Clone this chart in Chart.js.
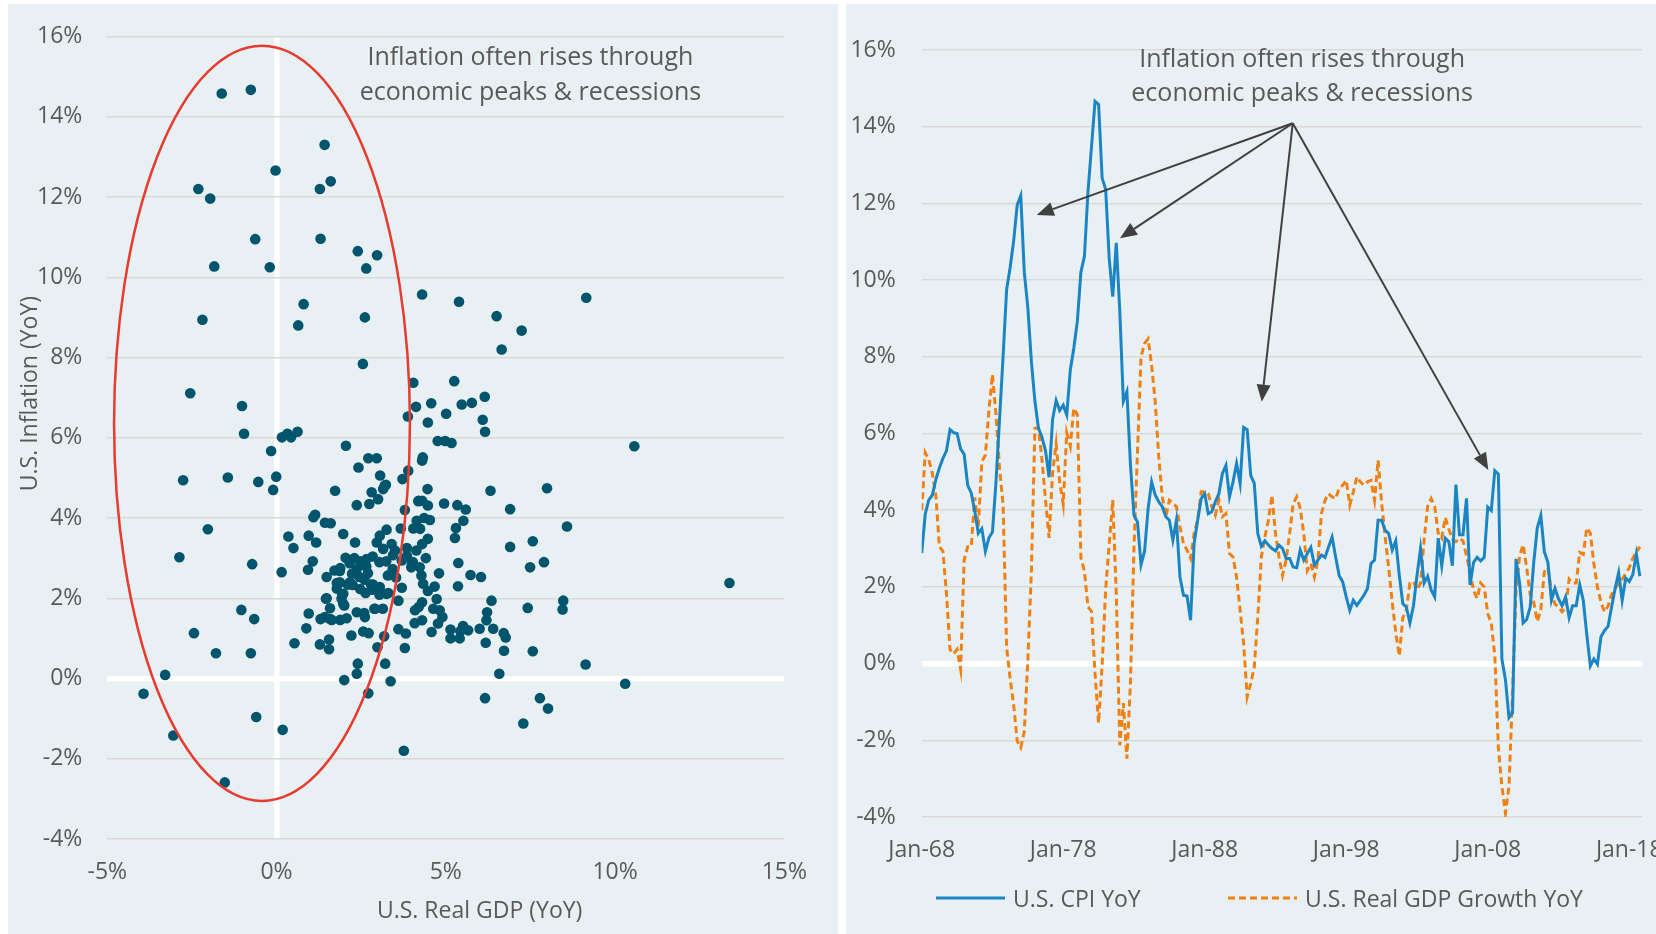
<!DOCTYPE html>
<html>
<head>
<meta charset="utf-8">
<title>Inflation vs GDP</title>
<script src="https://cdn.jsdelivr.net/npm/chart.js@4.4.1/dist/chart.umd.min.js"></script>
<style>
  html, body { margin: 0; padding: 0; background: #fff; overflow: hidden; width: 1656px; height: 934px; }
  .panel { position: absolute; top: 4px; height: 930px; background: #E8F0F3; }
  #leftPanel { left: 8px; width: 830px; }
  #rightPanel { left: 846px; width: 880px; }
  canvas { position: absolute; left: 0; top: 0; }
  #scatterChart { top: -10px; }
  .legend-item { position: absolute; top: 878px; height: 32px; display: flex; align-items: center;
    font: 23px 'Open Sans', sans-serif; color: #595959; white-space: nowrap; }
  .legend-item svg { margin-right: 8px; }
</style>
</head>
<body>
<div class="panel" id="leftPanel"><canvas id="scatterChart" width="830" height="940"></canvas></div>
<div class="panel" id="rightPanel">
  <canvas id="lineChart" width="880" height="930"></canvas>
  <div class="legend-item" style="left:90px">
    <svg width="69" height="32"><line x1="0" y1="16" x2="69" y2="16" stroke="#1B84C2" stroke-width="3"/></svg>
    <span>U.S. CPI YoY</span>
  </div>
  <div class="legend-item" style="left:382px">
    <svg width="69" height="32"><line x1="0" y1="16" x2="69" y2="16" stroke="#F08013" stroke-width="3" stroke-dasharray="7 4"/></svg>
    <span>U.S. Real GDP Growth YoY</span>
  </div>
</div>
<script>
const FONT = "'Open Sans', sans-serif";
const TEXT = '#595959';
const GRID = '#D9D9D9';

// quarterly readings, Q1 1968 onwards
const firstYear = 1968;
const cpiYoY = [
  2.88, 3.9, 4.27, 4.39, 4.8, 5.1, 5.35, 5.55, 6.1, 6.02, 6.0, 5.6, 5.46, 4.65, 4.45, 3.98, 3.4, 3.52, 2.93, 3.28,
  3.43, 4.74, 6.37, 8.0, 9.75, 10.33, 11.03, 11.96, 12.2, 10.2, 9.28, 7.88, 6.84, 6.14, 5.9, 5.55, 4.86, 6.37, 6.86, 6.6,
  6.74, 6.49, 7.65, 8.23, 8.93, 10.21, 10.62, 12.31, 13.48, 14.66, 14.58, 12.66, 12.37, 10.56, 9.57, 10.97, 9.17, 6.84, 7.09, 5.2,
  3.87, 3.69, 2.58, 2.93, 4.04, 4.74, 4.4,
  4.22, 4.09, 3.83, 3.74, 3.22, 3.74, 2.26, 1.78, 1.76, 1.13, 3.13, 3.74, 4.3, 4.43, 3.91, 3.96, 4.22, 4.43, 4.96, 5.17,
  4.35, 4.74, 5.22, 4.7, 6.16, 6.1, 4.91, 4.7, 3.39, 3.06, 3.2, 3.09, 3.0, 2.94, 3.09, 3.0, 2.74, 2.74, 2.52, 2.5,
  2.96, 2.7, 2.87, 3.03, 2.57, 2.7, 2.83, 2.77, 3.04, 3.3, 2.78, 2.3, 2.13, 1.74, 1.39, 1.65, 1.52, 1.65, 1.78, 1.96,
  2.61, 2.7, 3.74, 3.74, 3.48, 3.39, 2.96,
  3.2, 2.3, 1.56, 1.47, 1.06, 1.51, 2.3, 3.0, 2.1, 2.28, 1.92, 1.74, 3.27, 2.55, 3.27, 3.18, 2.55, 4.67, 3.36, 3.36,
  4.31, 2.05, 2.64, 2.77, 2.68, 2.77, 4.08, 3.99, 5.03, 4.94, 0.12, -0.42, -1.41, -1.28, 2.73, 2.1, 1.06, 1.15, 1.47, 2.64,
  3.54, 3.86, 2.91, 2.64, 1.65, 1.96, 1.69, 1.51, 1.74, 1.2, 1.51, 1.51, 2.05, 1.65, 0.75, -0.06, 0.12, -0.02, 0.7, 0.86,
  0.97, 1.47, 1.96, 2.37, 1.65, 2.23, 2.14, 2.32, 2.86, 2.28
];
const gdpYoY = [
  4.0, 5.5, 5.32, 4.97, 4.39, 3.05, 2.93, 1.83, 0.37, 0.25, 0.37, -0.15, 2.7, 3.05, 3.05, 4.33, 3.57, 5.26, 5.44, 6.6,
  7.54, 6.49, 5.09, 4.16, 0.43, -0.39, -1.08, -2.02, -2.19, -1.78, 0.08, 2.41, 6.14, 6.14, 5.32, 4.27, 3.28, 4.97, 5.73, 4.74,
  4.16, 6.02, 5.67, 6.66, 6.49, 2.76, 2.41, 1.48, 1.36, -0.27, -1.55, -0.05, 1.94, 3.11, 4.27, 1.83, -2.13, -1.03, -2.48, -0.5,
  3.0, 5.55, 8.0, 8.35, 8.47, 7.77, 6.84,
  5.39, 4.35, 3.83, 4.26, 4.19, 4.09, 3.57, 3.13, 2.96, 2.74, 3.39, 3.74, 4.48, 4.48, 4.43, 4.09, 3.87, 4.26, 3.83, 3.91,
  2.87, 2.78, 2.26, 1.39, 0.52, -0.87, -0.52, -0.09, 1.22, 2.78, 3.3, 3.74, 4.39, 3.39, 2.78, 2.3, 2.7, 3.39, 4.17, 4.35,
  4.04, 3.39, 2.43, 2.61, 2.26, 2.7, 3.91, 4.26, 4.43, 4.35, 4.3, 4.57, 4.65, 4.78, 4.13, 4.48, 4.87, 4.74, 4.65, 4.74,
  4.78, 4.26, 5.3, 4.2, 3.3, 2.5, 1.6,
  0.8, 0.2, 1.2, 1.4, 2.1, 2.14, 1.92, 2.1, 3.2, 4.1, 4.3, 4.1, 3.4, 3.27, 3.81, 3.5, 3.25, 3.18, 3.27, 3.2,
  2.8, 2.4, 1.9, 1.7, 2.1, 2.0, 1.3, 1.06, 0.2, -2.2, -3.2, -3.9, -3.2, -0.8, 1.9, 2.8, 3.1, 2.5, 1.8, 1.6,
  1.1, 1.4, 2.4, 2.5, 1.9, 1.55, 1.48, 1.35, 1.45, 2.2, 2.1, 2.1, 2.9, 2.85, 3.54, 3.4, 2.6, 2.0, 1.6, 1.35,
  1.5, 1.8, 1.95, 2.1, 2.2, 2.35, 2.5, 2.75, 2.9, 3.05
];
const xTickYears = [1968, 1978, 1988, 1998, 2008, 2018];

// scatter: [real GDP YoY, inflation YoY]
const scatterPoints = [
  [-1.62,14.58],[-0.76,14.67],[1.42,13.3],[-0.03,12.66],[-2.31,12.2],[-1.96,11.96],[1.28,12.2],[1.6,12.39],
  [-0.63,10.95],[1.3,10.96],[-1.84,10.27],[-0.2,10.25],[2.4,10.65],[2.65,10.22],[2.97,10.55],[-2.19,8.94],
  [0.8,9.33],[0.64,8.8],[2.61,9.0],[2.55,7.84],[-2.55,7.11],[-1.02,6.79],[-0.96,6.1],[0.16,6.01],[0.32,6.1],
  [0.43,6.01],[0.62,6.15],[-0.16,5.67],[2.05,5.8],[2.42,5.26],[2.71,5.49],[2.96,5.49],[3.88,6.53],[4.04,7.37],
  [4.12,6.77],[4.3,9.57],[5.39,9.39],[6.5,9.03],[7.24,8.67],[6.65,8.2],[9.15,9.49],[4.57,6.86],[5.25,7.41],
  [4.47,6.38],[5.01,6.6],[5.47,6.83],[5.77,6.87],[6.15,7.02],[6.09,6.45],[6.16,6.15],[4.76,5.92],[4.98,5.92],
  [5.17,5.87],[4.32,5.51],[10.57,5.79],[3.89,5.18],
  [-2.76,4.94],[-1.44,5.01],[-0.54,4.9],[-0.01,5.03],[-0.1,4.7],[3.06,5.06],[1.73,4.68],[2.37,4.32],[2.74,4.35],
  [2.81,4.64],[3.0,4.47],[3.15,4.72],[3.23,4.83],[3.79,4.2],[3.72,4.97],[-2.03,3.72],[-2.87,3.02],[-0.72,2.85],
  [0.15,2.65],[-1.04,1.71],[-0.66,1.48],[-2.44,1.13],[-1.79,0.63],[-0.76,0.63],[-3.29,0.09],[-3.93,-0.38],
  [-3.05,-1.42],[-0.6,-0.96],[0.18,-1.28],[-1.53,-2.59],[3.76,-1.8],[2.0,-0.04],[2.37,0.12],[2.4,0.37],[3.21,0.37],
  [3.37,-0.07],[2.71,-0.37],[0.53,0.88],[0.88,1.25],[1.28,0.85],[1.55,0.73],[1.55,0.97],[2.21,1.07],[2.56,1.17],
  [2.72,1.13],[2.98,0.78],[3.18,1.05],[3.6,1.23],[3.82,1.12],[3.79,0.76],[4.08,1.38],[0.95,1.62],[1.3,1.48],
  [1.58,1.48],[1.88,1.46],[2.07,1.5],[1.48,2.0],[1.58,1.75],[1.94,2.08],[2.0,1.82],[2.37,1.65],[2.59,1.63],
  [2.91,1.74],[3.14,1.74],[2.63,2.13],[2.79,2.34],[3.05,2.28],[3.04,2.09],[3.3,2.13],[3.6,1.94],[3.7,2.26],
  [4.09,1.7],[1.78,2.38],[2.1,2.34],[2.25,2.33],[2.47,2.23],[3.29,2.57],[1.48,2.53],[1.71,2.69],[1.88,2.75],
  [2.04,3.01],[2.23,2.61],[2.37,2.73],[2.65,2.79],[2.47,2.92],[2.66,2.98],[2.84,3.04],[3.04,2.9],[3.43,2.73],
  [3.53,2.52],[3.7,2.94],[4.0,2.86],[0.93,2.71],[1.07,2.92],[0.35,3.54],[0.5,3.25],[0.95,3.56],[1.17,3.39],
  [1.09,4.02],[1.14,4.08],[1.43,3.88],[1.6,3.87],[1.97,3.6],[2.32,3.39],[2.96,3.39],[3.05,3.56],[3.25,3.71],
  [3.67,3.74],[4.04,3.74],[3.15,3.23],[3.4,3.35],[3.5,3.19],[3.85,3.25],[4.14,3.93],[4.19,4.42],
  [3.19,4.8],[4.3,5.43],[4.46,4.72],[4.2,4.43],[4.3,4.43],[4.47,4.31],[4.95,4.36],[5.34,4.32],[5.59,4.21],
  [6.32,4.68],[7.99,4.74],[6.9,4.22],[8.58,3.79],[5.52,3.93],[5.3,3.75],[5.27,3.5],[4.36,4.0],[4.53,3.95],
  [4.24,3.73],[4.47,3.48],[4.3,3.35],[4.13,3.19],[4.41,3.0],[4.03,2.9],[4.23,2.77],[3.98,2.77],[4.28,2.57],
  [4.33,2.36],[4.47,2.18],[4.67,2.29],[4.8,2.62],[5.37,2.88],[5.73,2.58],[6.04,2.53],[5.36,2.3],[6.9,3.28],
  [7.57,3.42],[7.49,2.77],[7.9,2.9],[13.38,2.38],[4.3,1.9],[4.2,1.78],[4.3,1.45],[4.73,1.98],[4.63,1.74],
  [4.82,1.7],[4.9,1.53],[4.77,1.37],[4.58,1.16],[5.14,1.22],[5.14,1.0],[5.41,1.0],[5.51,1.31],[5.66,1.2],
  [5.43,1.18],[6.0,1.24],[6.2,1.45],[6.22,1.65],[6.35,1.94],[6.4,1.24],[6.71,1.13],[6.77,1.02],[6.18,0.89],
  [6.72,0.69],[7.42,1.76],[8.47,1.94],[8.45,1.72],[7.57,0.68],[9.13,0.35],[6.58,0.12],[10.3,-0.13],[6.16,-0.49],
  [7.78,-0.49],[8.02,-0.75],[7.29,-1.12],
  [1.87,2.68],[2.45,2.53],[2.7,2.62],[2.6,2.46],[2.85,2.34],[3.25,2.11],[2.82,2.21],[1.97,2.11],[1.92,1.99],
  [1.97,1.86],[1.46,1.99],[1.78,2.24],[1.87,2.4],[2.17,2.4],[2.3,3.0],[2.16,2.87],[3.24,2.92],[3.44,3.07],
  [3.85,3.05],[2.61,1.53],[2.89,1.74],[1.43,1.53],[1.63,1.46]
];

Chart.defaults.font.family = FONT;
Chart.defaults.color = TEXT;

const pct = v => v + '%';
const gridColor = ctx => ctx.tick.value === 0 ? '#FFFFFF' : GRID;
const gridWidth = ctx => ctx.tick.value === 0 ? 5.5 : 1.5;
const tickFont = { size: 23 };

// red ellipse, note and axis titles on the scatter
const scatterNotes = {
  id: 'scatterNotes',
  afterDatasetsDraw(chart) {
    const { ctx, chartArea, scales: { x, y } } = chart;
    const cx = x.getPixelForValue(-0.43), cy = y.getPixelForValue(6.36);
    const rx = x.getPixelForValue(3.94) - cx;
    const ry = cy - y.getPixelForValue(15.77);
    ctx.save();
    ctx.strokeStyle = '#E63B2E';
    ctx.lineWidth = 2.5;
    ctx.beginPath();
    ctx.ellipse(cx, cy, rx, ry, 0, 0, Math.PI * 2);
    ctx.stroke();

    ctx.fillStyle = TEXT;
    ctx.textAlign = 'center';
    ctx.font = `25px ${FONT}`;
    const tx = x.getPixelForValue(7.5), ty = y.getPixelForValue(15.3);
    ctx.fillText('Inflation often rises through', tx, ty);
    ctx.fillText('economic peaks & recessions', tx, ty + 35);

    ctx.font = `23px ${FONT}`;
    ctx.textBaseline = 'middle';
    ctx.fillText('U.S. Real GDP (YoY)', x.getPixelForValue(6), chartArea.bottom + 72);
    ctx.translate(22, y.getPixelForValue(7.1));
    ctx.rotate(-Math.PI / 2);
    ctx.fillText('U.S. Inflation (YoY)', 0, 0);
    ctx.restore();
  }
};

// arrows from the note down to the peaks
const arrowNotes = {
  id: 'arrowNotes',
  afterDatasetsDraw(chart) {
    const { ctx, scales: { x, y } } = chart;
    const tips = [[1976.13, 11.7], [1982.01, 11.09], [1992.03, 6.83], [2008.04, 5.05]];
    const ox = x.getPixelForValue(1994.22), oy = y.getPixelForValue(14.09);
    ctx.save();
    ctx.strokeStyle = '#404040';
    ctx.fillStyle = '#404040';
    ctx.lineWidth = 2;
    tips.forEach(([tv, vv]) => {
      const px = x.getPixelForValue(tv), py = y.getPixelForValue(vv);
      const a = Math.atan2(py - oy, px - ox);
      const bx = px - Math.cos(a) * 17, by = py - Math.sin(a) * 17;
      ctx.beginPath();
      ctx.moveTo(ox, oy);
      ctx.lineTo(bx, by);
      ctx.stroke();
      ctx.beginPath();
      ctx.moveTo(px, py);
      ctx.lineTo(bx + Math.sin(a) * 7, by - Math.cos(a) * 7);
      ctx.lineTo(bx - Math.sin(a) * 7, by + Math.cos(a) * 7);
      ctx.closePath();
      ctx.fill();
    });
    ctx.fillStyle = TEXT;
    ctx.textAlign = 'center';
    ctx.font = `25px ${FONT}`;
    const tx = x.getPixelForValue(1994.88), ty = y.getPixelForValue(15.56);
    ctx.fillText('Inflation often rises through', tx, ty);
    ctx.fillText('economic peaks & recessions', tx, ty + 34);
    ctx.restore();
  }
};

new Chart(document.getElementById('scatterChart'), {
  type: 'scatter',
  data: {
    datasets: [{
      label: 'Inflation vs GDP',
      data: scatterPoints.map(([gx, cy]) => ({ x: gx, y: cy })),
      pointRadius: 5.3,
      pointBackgroundColor: '#00546B',
      pointBorderWidth: 0
    }]
  },
  options: {
    responsive: false,
    animation: false,
    devicePixelRatio: 1,
    layout: { autoPadding: false, padding: { top: 42.5, right: 53.7, left: 0, bottom: 0 } },
    plugins: { legend: { display: false }, tooltip: { enabled: false } },
    scales: {
      x: {
        type: 'linear', min: -5, max: 15,
        ticks: { stepSize: 5, callback: pct, padding: 20, font: tickFont, maxRotation: 0 },
        grid: { drawTicks: false, color: ctx => ctx.tick.value === 0 ? '#FFFFFF' : 'transparent', lineWidth: gridWidth },
        border: { display: false },
        afterFit: s => { s.height = 95; }
      },
      y: {
        min: -4, max: 16,
        ticks: { stepSize: 2, callback: pct, padding: 25, font: tickFont },
        grid: { drawTicks: false, color: gridColor, lineWidth: gridWidth },
        border: { display: false },
        afterFit: s => { s.width = 99.3; }
      }
    }
  },
  plugins: [scatterNotes]
});

new Chart(document.getElementById('lineChart'), {
  type: 'line',
  data: {
    datasets: [{
      label: 'U.S. CPI YoY',
      data: cpiYoY.map((v, i) => ({ x: firstYear + i / 4, y: v })),
      borderColor: '#1B84C2',
      borderWidth: 3,
      pointRadius: 0,
      tension: 0
    }, {
      label: 'U.S. Real GDP Growth YoY',
      data: gdpYoY.map((v, i) => ({ x: firstYear + i / 4, y: v })),
      borderColor: '#F08013',
      borderWidth: 3,
      borderDash: [7, 4],
      pointRadius: 0,
      tension: 0
    }]
  },
  options: {
    responsive: false,
    animation: false,
    devicePixelRatio: 1,
    layout: { autoPadding: false, padding: { top: 46, right: 84, left: 0, bottom: 0 } },
    plugins: { legend: { display: false }, tooltip: { enabled: false } },
    scales: {
      x: {
        type: 'linear', min: 1968, max: 2018.9,
        afterBuildTicks: s => { s.ticks = xTickYears.map(v => ({ value: v })); },
        ticks: { callback: v => 'Jan-' + String(v).slice(2), padding: 20, font: tickFont, autoSkip: false, maxRotation: 0 },
        grid: { display: false, drawTicks: false },
        border: { display: false },
        afterFit: s => { s.height = 117; }
      },
      y: {
        min: -4, max: 16,
        ticks: { stepSize: 2, callback: pct, padding: 26, font: tickFont },
        grid: { drawTicks: false, color: gridColor, lineWidth: gridWidth },
        border: { display: false },
        afterFit: s => { s.width = 75.7; }
      }
    }
  },
  plugins: [arrowNotes]
});
</script>
</body>
</html>
